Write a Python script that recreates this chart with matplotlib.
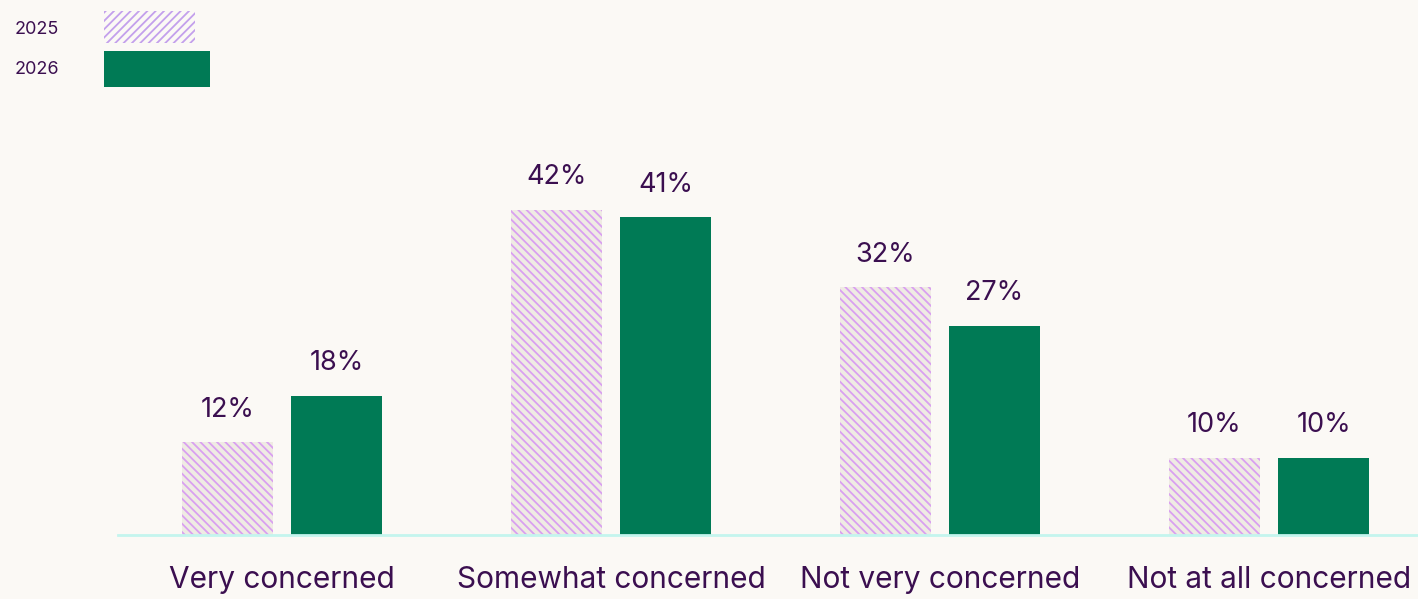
import matplotlib
matplotlib.use("Agg")
import matplotlib.pyplot as plt
from matplotlib.patches import Rectangle
import numpy as np

categories = ["Very concerned", "Somewhat concerned", "Not very concerned", "Not at all concerned"]
values_2025 = [12, 42, 32, 10]
values_2026 = [18, 41, 27, 10]
series_names = ["2025", "2026"]

BG = "#fbf9f5"
TXT = "#3b0f50"
GREEN = "#007a55"
HATCH_FACE = "#efebe3"
HATCH_COL = "#d9a0f0"
LEG_HATCH = "#c3a0ec"
BASE = "#c4f5ee"

plt.rcParams['font.family'] = ['Inter', 'DejaVu Sans']

W, H = 1418, 599
fig = plt.figure(figsize=(W / 100, H / 100), dpi=100, facecolor=BG)

ax_left = 118 / W
ax_bottom = 1 - 535 / H
ax_top_px = 100
ax = fig.add_axes([ax_left, ax_bottom, 1 - ax_left, (535 - ax_top_px) / H])
ax.set_facecolor(BG)

x = np.arange(len(categories))
width = 0.277
off = 0.1657

plt.rcParams['hatch.linewidth'] = 1.3
b1 = ax.bar(x - off, values_2025, width, color=HATCH_FACE, edgecolor=HATCH_COL,
            hatch='\\\\\\\\', linewidth=0)
b2 = ax.bar(x + off, values_2026, width, color=GREEN, linewidth=0)

px_per_unit = 7.75
ax.set_ylim(0, (535 - ax_top_px) / px_per_unit)
ax.set_xlim((118 - 282) / 329, (1418 - 282) / 329)

for bars, vals in ((b1, values_2025), (b2, values_2026)):
    for r, v in zip(bars, vals):
        ax.annotate(f"{v}%", (r.get_x() + r.get_width() / 2, v),
                    xytext=(0, 14), textcoords="offset points",
                    ha="center", va="bottom", fontsize=19.5, color=TXT)

for s in ax.spines.values():
    s.set_visible(False)
ax.axhline(0, color=BASE, lw=2, clip_on=False)
ax.set_yticks([])
ax.set_xticks(x)
ax.set_xticklabels(categories, fontsize=21.5, color=TXT)
ax.tick_params(axis='x', length=0, pad=22)

# legend
fig.text(15 / W, 1 - 29 / H, series_names[0], fontsize=13, color=TXT, va="center", ha="left")
fig.text(15 / W, 1 - 70 / H, series_names[1], fontsize=13, color=TXT, va="center", ha="left")
fig.patches.append(Rectangle((104 / W, 1 - 43 / H), 91 / W, 32 / H, transform=fig.transFigure,
                             facecolor=BG, edgecolor=LEG_HATCH, hatch='////', linewidth=0))
fig.patches.append(Rectangle((104 / W, 1 - 87 / H), 106 / W, 36 / H, transform=fig.transFigure,
                             facecolor=GREEN, linewidth=0))

fig.savefig("out.png", dpi=100, facecolor=BG)
